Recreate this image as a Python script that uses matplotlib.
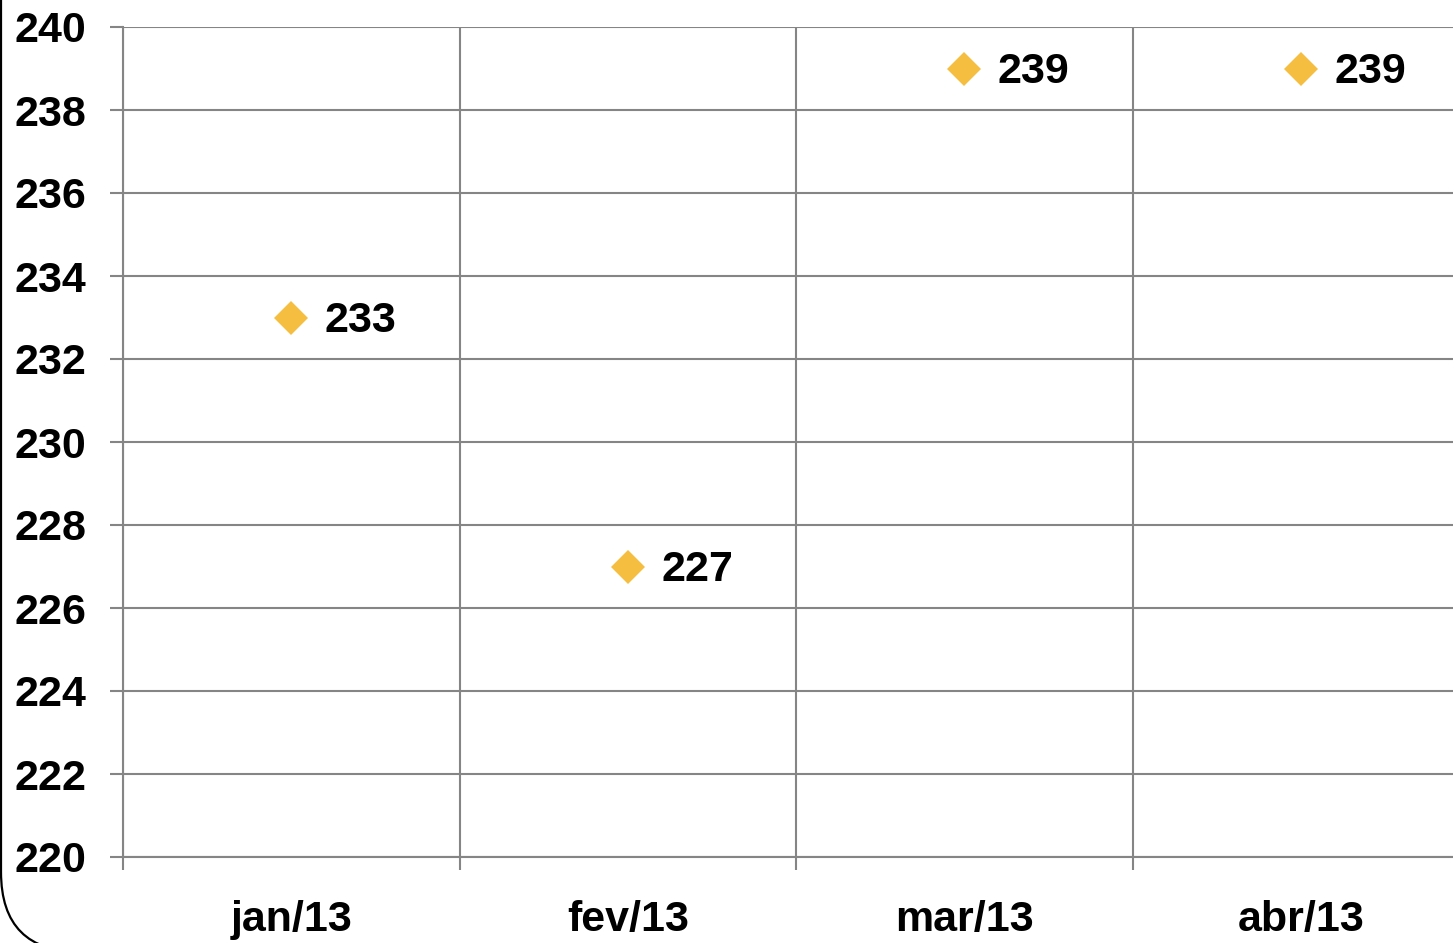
import numpy as np
import matplotlib.pyplot as plt
from matplotlib.path import Path
from matplotlib.patches import PathPatch

# data
months = ['jan/13', 'fev/13', 'mar/13', 'abr/13']
values = [233, 227, 239, 239]
y_ticks = list(range(220, 241, 2))

plt.rcParams['font.family'] = ['Liberation Sans', 'DejaVu Sans']
plt.rcParams['font.weight'] = 'bold'

W, H = 1453, 943
fig = plt.figure(figsize=(W / 100, H / 100), dpi=100)

# outer frame with rounded bottom-left corner, drawn in pixel coords
bg = fig.add_axes([0, 0, 1, 1], zorder=-1)
bg.set_xlim(0, W)
bg.set_ylim(H, 0)
bg.axis('off')
r = 80
verts = [(1, -5), (1, 952 - r), (1, 952), (1 + r, 952), (W + 5, 952)]
codes = [Path.MOVETO, Path.LINETO, Path.CURVE3, Path.CURVE3, Path.LINETO]
bg.add_patch(PathPatch(Path(verts, codes), fill=False, lw=1.6, ec='black'))

grid_c = '#858585'
fs = 31
ax = fig.add_axes([123 / W, (H - 857) / H, 1346 / W, 830 / H])
x = np.arange(len(months))
ax.plot(x, values, linestyle='none', marker='D', ms=17, color='#F5BE41',
        mew=0, zorder=3, clip_on=False)
for xi, v in zip(x, values):
    ax.annotate(str(v), (xi, v), xytext=(24, -2.5), textcoords='offset points',
                va='center', ha='left', fontsize=fs, fontweight='bold')

ax.set_xlim(-0.5, 3.5)
ax.set_ylim(220, 240)
ax.set_yticks(y_ticks)
ax.set_xticks(x)
ax.set_xticklabels(months)
ax.set_xticks(np.arange(-0.5, 4, 1), minor=True)

ax.tick_params(axis='y', which='major', length=9.5, width=1.5, color=grid_c,
               labelsize=fs, pad=17)
ax.tick_params(axis='x', which='major', length=0, labelsize=fs, pad=31)
ax.tick_params(axis='x', which='minor', length=9, width=1.5, color=grid_c)
for lab in ax.get_xticklabels() + ax.get_yticklabels():
    lab.set_fontweight('bold')

ax.grid(axis='y', which='major', color=grid_c, lw=1.5)
ax.grid(axis='x', which='minor', color=grid_c, lw=1.5)
ax.set_axisbelow(True)
for s in ['top', 'right']:
    ax.spines[s].set_visible(False)
for s in ['left', 'bottom']:
    ax.spines[s].set_color(grid_c)
    ax.spines[s].set_linewidth(1.5)

fig.savefig('out.png', dpi=100)
